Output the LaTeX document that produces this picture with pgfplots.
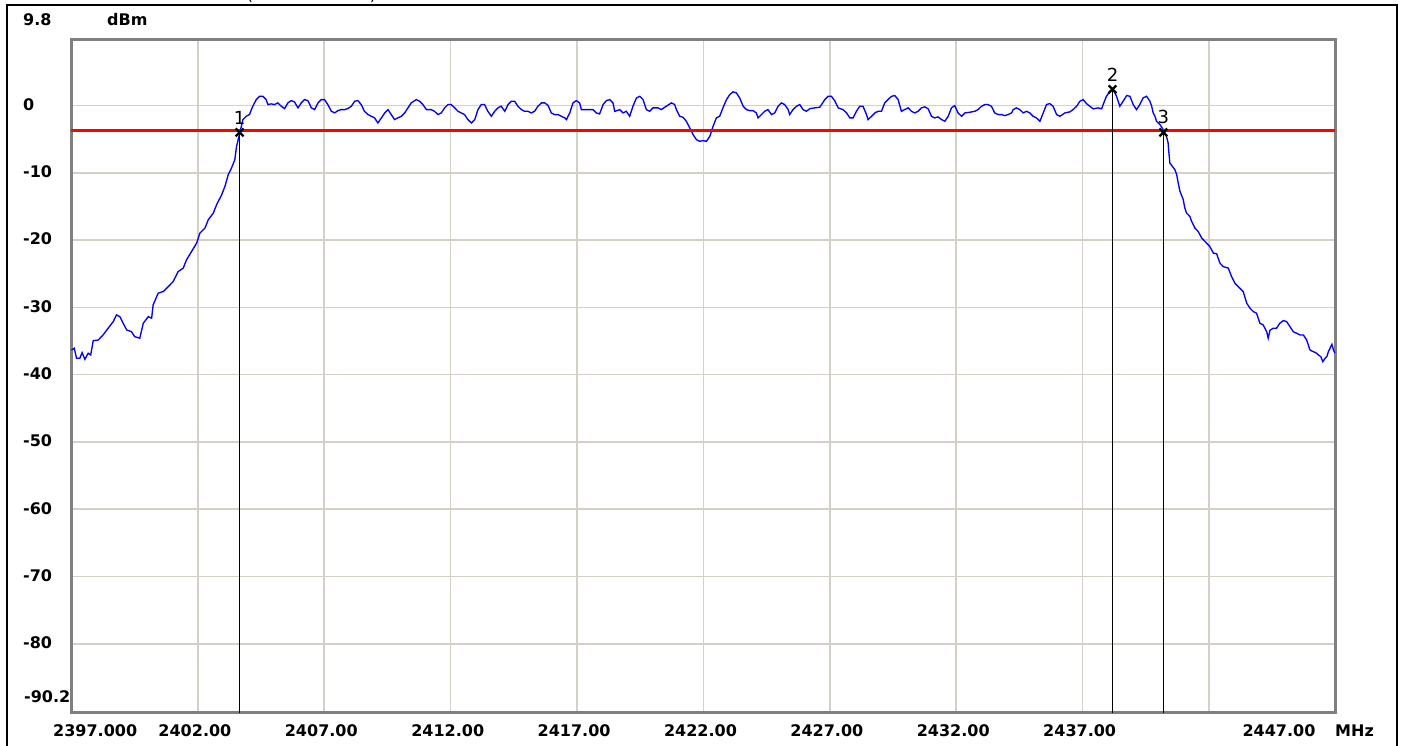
\documentclass[border=0pt]{standalone}
\usepackage{fontspec}
\setmainfont{DejaVu Sans}
\usepackage{pgfplots}
\pgfplotsset{compat=1.18}
\definecolor{gridgray}{RGB}{212,208,200}
\definecolor{axgray}{RGB}{128,128,128}
\begin{document}
\fontsize{16pt}{19pt}\selectfont\bfseries
\begin{tikzpicture}
\useasboundingbox (-71.5pt,-32.5pt) rectangle (1329.5pt,712.5pt);
\begin{axis}[
  scale only axis, width=1264pt, height=673pt,
  xmin=2397, xmax=2447, ymin=-90.2, ymax=9.8,
  axis line style={draw=axgray, line width=3pt},
  xtick={2402,2407,2412,2417,2422,2427,2432,2437,2442},
  xticklabels={2402.00,2407.00,2412.00,2417.00,2422.00,2427.00,2432.00,2437.00,{}},
  ytick={0,-10,-20,-30,-40,-50,-60,-70,-80},
  yticklabels={0,-10,-20,-30,-40,-50,-60,-70,-80},
  major tick length=0pt,
  grid=major, major grid style={draw=gridgray, line width=1.6pt},
  xticklabel style={anchor=base, inner sep=0pt, yshift=-23.5pt, xshift=-3pt},
  yticklabel style={anchor=west, inner sep=0pt, xshift=-48.5pt, yshift=1pt},
  clip=false,
]
\addplot[blue, line width=1.35pt, mark=none] coordinates {
(2397.00,-36.33) (2397.11,-36.08) (2397.20,-37.57) (2397.33,-37.57) (2397.42,-36.73)
(2397.53,-37.72) (2397.66,-36.82) (2397.76,-37.07) (2397.86,-34.95) (2398.06,-34.85)
(2398.25,-34.10) (2398.45,-33.10) (2398.65,-32.12) (2398.78,-31.12) (2398.91,-31.37)
(2399.18,-33.35) (2399.37,-33.61) (2399.50,-34.35) (2399.70,-34.59) (2399.84,-32.36)
(2400.04,-31.37) (2400.17,-31.61) (2400.23,-29.63) (2400.43,-27.89) (2400.63,-27.65)
(2400.83,-26.91) (2401.02,-26.17) (2401.22,-24.68) (2401.42,-24.17) (2401.55,-22.94)
(2401.75,-21.70) (2401.95,-20.45) (2402.08,-18.96) (2402.28,-18.22) (2402.41,-16.99)
(2402.61,-15.99) (2402.74,-14.75) (2402.94,-13.27) (2403.07,-12.03) (2403.20,-10.29)
(2403.33,-9.29) (2403.46,-8.06) (2403.53,-6.08) (2403.66,-4.08)
(2403.78,-2.10) (2403.91,-1.61) (2404.04,-1.36) (2404.17,-0.12) (2404.31,0.87)
(2404.44,1.36) (2404.57,1.36) (2404.70,0.87) (2404.77,0.13) (2404.90,0.23)
(2405.03,0.13) (2405.16,0.38) (2405.30,-0.12) (2405.43,-0.47) (2405.56,0.38)
(2405.69,0.72) (2405.82,0.53) (2405.96,-0.36) (2406.09,0.38) (2406.22,0.87)
(2406.35,0.72) (2406.49,-0.36) (2406.62,-0.62) (2406.75,0.38) (2406.88,0.87)
(2407.01,0.87) (2407.14,0.13) (2407.28,-0.87) (2407.41,-1.11) (2407.54,-0.77)
(2407.67,-0.62) (2407.80,-0.62) (2407.93,-0.47) (2408.07,-0.12) (2408.20,0.62)
(2408.33,0.72) (2408.46,0.13) (2408.59,-0.87) (2408.73,-1.36) (2408.86,-1.61)
(2408.99,-1.85) (2409.12,-2.60) (2409.26,-1.85) (2409.39,-1.11) (2409.52,-0.62)
(2409.65,-1.36) (2409.78,-2.10) (2409.91,-1.85) (2410.05,-1.61) (2410.18,-1.11)
(2410.31,-0.36) (2410.44,0.38) (2410.64,0.87) (2410.77,0.62) (2410.90,0.13)
(2411.04,-0.62) (2411.23,-0.62) (2411.36,-0.87) (2411.50,-1.36) (2411.63,-1.11)
(2411.76,-0.36) (2411.89,0.13) (2412.02,0.13) (2412.16,-0.36) (2412.29,-0.87)
(2412.42,-1.11) (2412.55,-1.36) (2412.68,-2.10) (2412.82,-2.60) (2412.95,-2.10)
(2413.08,-0.62) (2413.21,0.13) (2413.34,0.13) (2413.47,-0.87) (2413.61,-1.61)
(2413.74,-0.87) (2413.87,-0.36) (2414.00,-0.12) (2414.14,-0.87) (2414.27,0.13)
(2414.40,0.62) (2414.53,0.62) (2414.66,-0.12) (2414.80,-0.62) (2414.93,-0.87)
(2415.06,-0.87) (2415.19,-1.11) (2415.32,-0.87) (2415.45,-0.12) (2415.59,0.38)
(2415.72,0.38) (2415.85,0.02) (2415.98,-1.11) (2416.11,-1.36) (2416.25,-1.36)
(2416.38,-1.61) (2416.51,-1.85)
(2416.58,-2.10) (2416.71,-1.11) (2416.84,0.38) (2416.97,0.72) (2417.10,0.38)
(2417.17,-0.62) (2417.37,-0.62) (2417.63,-0.62) (2417.76,-1.11) (2417.89,-1.26)
(2418.03,0.13) (2418.16,0.72) (2418.29,0.87) (2418.42,0.38) (2418.49,-0.87)
(2418.69,-0.62) (2418.82,-1.11) (2418.95,-0.87) (2419.08,-1.61) (2419.21,-0.12)
(2419.35,1.12) (2419.48,1.36) (2419.61,0.87) (2419.74,-0.62) (2419.87,-0.87)
(2420.00,-0.36) (2420.20,-0.36) (2420.33,-0.62) (2420.53,-0.12) (2420.73,0.38)
(2420.86,0.13) (2420.93,-0.62) (2421.06,-1.61) (2421.19,-1.76) (2421.32,-2.35)
(2421.46,-3.34) (2421.59,-4.34) (2421.72,-5.08) (2421.85,-5.33) (2421.98,-5.23)
(2422.12,-5.33) (2422.25,-4.59) (2422.38,-3.10) (2422.51,-1.85) (2422.64,-1.61)
(2422.77,-0.36) (2422.91,0.87) (2423.04,1.61) (2423.17,2.02) (2423.30,1.87)
(2423.43,1.12) (2423.57,-0.12) (2423.70,-0.62) (2423.83,-0.77) (2423.96,-0.77)
(2424.09,-1.11) (2424.16,-1.85) (2424.29,-1.36) (2424.42,-0.87) (2424.55,-0.62)
(2424.69,-1.36) (2424.82,-1.11) (2424.95,-0.12) (2425.08,0.38) (2425.21,0.13)
(2425.35,-0.62) (2425.41,-1.36) (2425.54,-0.62) (2425.68,-0.12) (2425.81,0.13)
(2425.94,-0.62) (2426.07,-0.87) (2426.21,-0.47) (2426.40,-0.36) (2426.60,-0.27)
(2426.80,0.87) (2426.93,1.36) (2427.06,1.36) (2427.19,0.72) (2427.33,-0.36)
(2427.52,-0.62) (2427.66,-1.11) (2427.79,-1.85) (2427.92,-1.85) (2428.05,-0.87)
(2428.18,-0.12) (2428.31,-0.12) (2428.45,-1.36) (2428.51,-2.10) (2428.65,-1.61)
(2428.78,-1.11) (2428.91,-0.87) (2429.04,-0.87) (2429.17,0.38) (2429.37,1.12)
(2429.44,1.36) (2429.57,1.47) (2429.70,0.87) (2429.83,-0.87) (2429.96,-0.62)
(2430.10,-0.36) (2430.23,-0.87) (2430.36,-1.11) (2430.49,-0.87) (2430.62,-0.36)
(2430.76,-0.21) (2430.89,-0.51) (2431.02,-1.61) (2431.15,-1.85) (2431.28,-1.70)
(2431.42,-2.10) (2431.55,-2.35) (2431.68,-1.61) (2431.81,-0.36) (2431.94,-0.02)
(2432.07,-1.11) (2432.21,-1.61) (2432.34,-1.11) (2432.54,-1.01) (2432.73,-0.87)
(2432.86,-0.62) (2433.00,-0.12) (2433.13,0.13) (2433.26,0.13) (2433.39,-0.12)
(2433.52,-1.11) (2433.66,-1.36) (2433.79,-1.36) (2433.92,-1.51) (2434.05,-1.36)
(2434.19,-1.11) (2434.25,-0.62) (2434.38,-0.36) (2434.51,-0.62) (2434.65,-1.11)
(2434.78,-0.87) (2434.91,-1.11) (2435.04,-1.61) (2435.17,-1.85) (2435.31,-2.35)
(2435.44,-1.11) (2435.57,0.13) (2435.70,0.28) (2435.83,-0.12) (2435.97,-1.36)
(2436.10,-1.61) (2436.30,-1.11) (2436.49,-0.96) (2436.62,-0.62) (2436.76,-0.12)
(2436.89,0.62) (2437.02,0.87) (2437.15,0.28) (2437.28,-0.12) (2437.42,-0.51)
(2437.61,-0.36) (2437.75,-0.51) (2437.81,0.13) (2437.94,1.36) (2438.08,2.11)
(2438.21,2.36) (2438.34,1.36) (2438.47,-0.12) (2438.60,0.62) (2438.74,1.47)
(2438.87,1.36) (2439.00,0.13) (2439.13,-0.62) (2439.26,0.13) (2439.39,1.12)
(2439.53,1.36) (2439.66,0.62) (2439.73,-0.12) (2439.79,-1.11) (2439.86,-1.61)
(2439.92,-2.35) (2440.06,-2.85) (2440.19,-3.59) (2440.32,-4.64) (2440.38,-5.57)
(2440.40,-6.57) (2440.45,-8.55) (2440.65,-9.55) (2440.72,-10.29) (2440.78,-11.53)
(2440.85,-12.77) (2440.98,-14.01) (2441.04,-15.24) (2441.11,-15.99) (2441.24,-16.49)
(2441.31,-17.23) (2441.44,-18.22) (2441.57,-18.73) (2441.71,-19.71) (2441.90,-20.45)
(2442.03,-20.96) (2442.17,-21.94) (2442.30,-22.05) (2442.43,-23.43) (2442.56,-23.94)
(2442.76,-24.17) (2442.89,-25.42) (2443.02,-26.41) (2443.15,-26.91) (2443.35,-27.65)
(2443.49,-29.38) (2443.62,-30.13) (2443.75,-30.63) (2443.88,-30.87) (2444.01,-32.36)
(2444.14,-32.61) (2444.28,-33.61) (2444.34,-34.59) (2444.41,-33.40) (2444.54,-33.10)
(2444.67,-33.10) (2444.80,-32.36) (2444.94,-31.97) (2445.07,-32.12) (2445.20,-32.86)
(2445.33,-33.61) (2445.46,-33.85) (2445.60,-34.10) (2445.73,-34.10) (2445.86,-34.84)
(2445.99,-36.33) (2446.12,-36.58) (2446.26,-36.82) (2446.32,-37.07) (2446.42,-37.32)
(2446.50,-38.07) (2446.59,-37.57) (2446.66,-37.32) (2446.72,-36.58) (2446.86,-35.49)
(2446.92,-36.33) (2446.98,-36.82)
};
% display line
\addplot[red, line width=3.3pt, mark=none] coordinates {(2397,-3.74) (2447,-3.74)};
% marker lines
\addplot[black, line width=1.5pt, mark=none] coordinates {(2403.65,-4.0) (2403.65,-90.2)};
\addplot[black, line width=1.5pt, mark=none] coordinates {(2438.18,2.4) (2438.18,-90.2)};
\addplot[black, line width=1.5pt, mark=none] coordinates {(2440.19,-4.0) (2440.19,-90.2)};
% marker symbols
\addplot[only marks, mark=x, mark size=5.5pt, mark options={draw=black, line width=2.3pt},
  point meta=explicit symbolic, nodes near coords,
  nodes near coords style={anchor=south, inner sep=0pt, yshift=7pt, black, font=\fontsize{18pt}{21pt}\selectfont\mdseries}]
  coordinates {(2403.65,-4.0) [1] (2438.18,2.4) [2] (2440.19,-4.0) [3]};
\end{axis}
\node[anchor=base west, inner sep=0pt] at (-48.5pt,686.5pt) {9.8};
\node[anchor=base west, inner sep=0pt] at (35.5pt,686.5pt) {dBm};
\node[anchor=base west, inner sep=0pt] at (-47.5pt,10.5pt) {-90.2};
\node[anchor=base west, inner sep=0pt] at (-18.5pt,-23.5pt) {2397.000};
\node[anchor=base, inner sep=0pt] at (1207.5pt,-23.5pt) {2447.00};
\node[anchor=base west, inner sep=0pt] at (1263.5pt,-23.5pt) {MHz};
\node[anchor=base, inner sep=0pt, font=\mdseries] at (178.5pt,711.5pt) {(};
\node[anchor=base, inner sep=0pt, font=\mdseries] at (301.5pt,711.5pt) {)};
\draw[black, line width=2pt] (-64.5pt,-40pt) -- (-64.5pt,707.5pt) -- (1325.5pt,707.5pt) -- (1325.5pt,-40pt);
\end{tikzpicture}
\end{document}
